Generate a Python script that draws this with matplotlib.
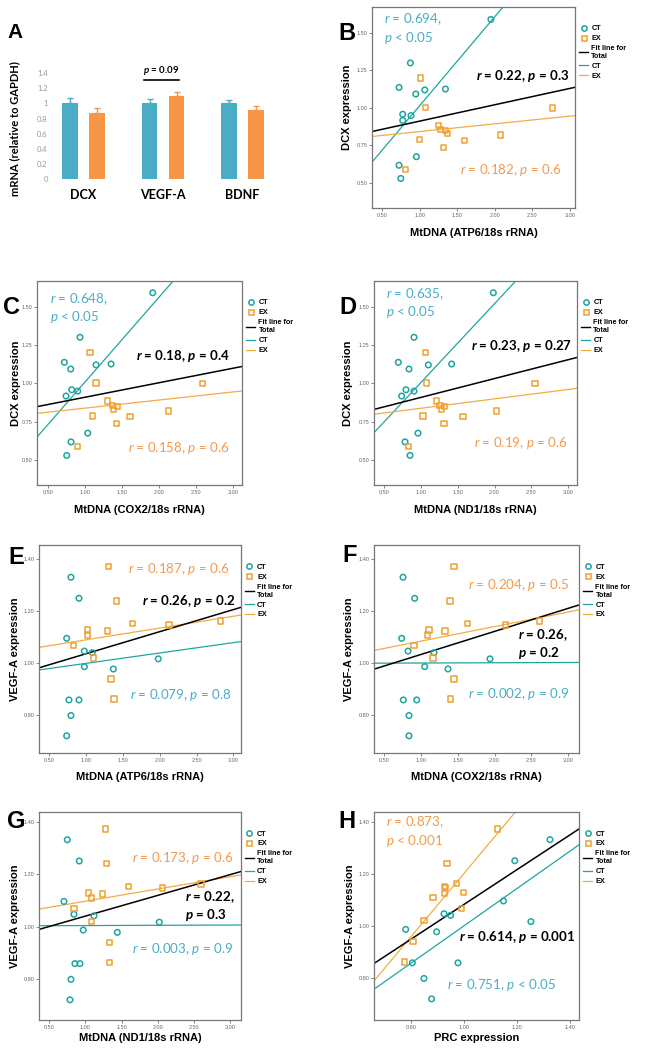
import numpy as np
import matplotlib
matplotlib.use('Agg')
import matplotlib.pyplot as plt
from matplotlib.lines import Line2D

plt.rcParams['font.family'] = ['Liberation Sans', 'DejaVu Sans']
plt.rcParams['mathtext.fontset'] = 'custom'
plt.rcParams['mathtext.rm'] = 'Lato'
plt.rcParams['mathtext.it'] = 'Lato:italic'
plt.rcParams['mathtext.bf'] = 'Lato:bold'
plt.rcParams['mathtext.bfit'] = 'Lato:bold:italic'

# colours
teal_bar = '#4bacc6'
orange_bar = '#f79646'
teal_pt = '#1fa59e'
orange_pt = '#f0a030'
teal_txt = '#4aadc7'
orange_txt = '#f39a4c'

# ---- panel A data
genes = ['DCX', 'VEGF-A', 'BDNF']
ct_mean = [1.0, 1.0, 1.0]
ex_mean = [0.87, 1.10, 0.907]
ct_err = [0.07, 0.053, 0.045]
ex_err = [0.07, 0.045, 0.053]

# ---- DCX expression (y of panels B, C, D)
dcx_ct = [1.59, 1.30, 1.137, 1.12, 1.093, 1.126, 0.958, 0.949, 0.917, 0.675, 0.618, 0.53]
dcx_ex = [1.20, 1.003, 1.0, 0.885, 0.855, 0.85, 0.83, 0.788, 0.785, 0.82, 0.738, 0.59]
atp6_ct_b = [1.95, 0.878, 0.727, 1.07, 0.95, 1.345, 0.776, 0.887, 0.776, 0.958, 0.727, 0.75]
atp6_ex_b = [1.01, 1.078, 2.77, 1.256, 1.28, 1.345, 1.376, 0.998, 1.6, 2.08, 1.315, 0.81]
cox2_ct_c = [1.914, 0.935, 0.724, 1.151, 0.81, 1.353, 0.823, 0.904, 0.747, 1.039, 0.814, 0.756]
cox2_ex_c = [1.07, 1.151, 2.587, 1.308, 1.375, 1.438, 1.384, 1.101, 1.609, 2.125, 1.43, 0.9]
nd1_ct_d = [1.983, 0.907, 0.694, 1.101, 0.839, 1.418, 0.798, 0.907, 0.74, 0.961, 0.785, 0.853]
nd1_ex_d = [1.065, 1.079, 2.548, 1.214, 1.26, 1.323, 1.282, 1.029, 1.571, 2.028, 1.314, 0.83]

# ---- VEGF-A expression (y of panels E, F, G, H)
vegf_ct = [1.331, 1.25, 1.096, 1.047, 1.041, 0.987, 0.978, 1.017, 0.859, 0.859, 0.799, 0.721]
vegf_ex = [1.372, 1.24, 1.152, 1.147, 1.162, 1.128, 1.109, 1.124, 1.068, 1.02, 0.94, 0.862]
atp6_ct_e = [0.794, 0.903, 0.736, 0.976, 1.084, 0.976, 1.37, 1.98, 0.767, 0.903, 0.794, 0.736]
atp6_ex_e = [1.30, 1.415, 1.628, 2.126, 2.828, 1.021, 1.021, 1.288, 0.826, 1.098, 1.338, 1.379]
cox2_ct_f = [0.758, 0.916, 0.74, 0.826, 1.178, 1.052, 1.368, 1.938, 0.762, 0.943, 0.839, 0.839]
cox2_ex_f = [1.449, 1.395, 1.63, 2.15, 2.611, 1.11, 1.088, 1.327, 0.907, 1.165, 1.449, 1.404]
nd1_ct_g = [0.749, 0.915, 0.703, 0.841, 1.118, 0.97, 1.441, 2.022, 0.855, 0.924, 0.8, 0.786]
nd1_ex_g = [1.28, 1.293, 1.593, 2.068, 2.599, 1.04, 1.086, 1.238, 0.841, 1.086, 1.33, 1.33]
prc_ct_h = [1.325, 1.192, 1.149, 0.924, 0.949, 0.779, 0.896, 1.253, 0.804, 0.977, 0.848, 0.877]
prc_ex_h = [1.126, 0.935, 0.925, 0.929, 0.971, 0.997, 0.883, 0.925, 0.991, 0.848, 0.806, 0.775]

# fit lines (intercept, slope) for CT, EX, Total
fit_b = [(0.421, 0.593), (0.791, 0.0515), (0.803, 0.109)]
fit_c = [(0.452, 0.555), (0.785, 0.053), (0.814, 0.0949)]
fit_d = [(0.491, 0.514), (0.776, 0.0613), (0.785, 0.123)]
fit_e = [(0.96, 0.0398), (1.045, 0.0453), (0.952, 0.0848)]
fit_f = [(1.0, 0.001), (1.029, 0.0561), (0.945, 0.0888)]
fit_g = [(1.003, 0.001), (1.05, 0.0467), (0.961, 0.079)]
fit_h = [(0.288, 0.713), (-0.007, 1.209), (0.419, 0.664)]

W, H = 648, 1050
fig = plt.figure(figsize=(W / 100, H / 100), dpi=100)


def rect(left, top, right, bottom):
    return [left / W, 1 - bottom / H, (right - left) / W, (bottom - top) / H]


def note(ax, s, color, x, y, ha='left', va='center', bold=False):
    ax.text(x, y, s, transform=ax.transAxes, color=color, ha=ha, va=va,
            fontsize=9.6, family='Lato', fontweight='bold' if bold else 'normal',
            linespacing=1.2, clip_on=False)


def stat(r, p, bold=False, sep=', ', pr='='):
    v = r'\mathbfit' if bold else r'\mathit'
    return '$%s{r}$ = %s%s$%s{p}$ %s %s' % (v, r, sep, v, pr, p)


def scatter_panel(box, ct_x, ct_y, ex_x, ex_y, fits, xlim, ylim, xticks, yticks,
                  xlabel, ylabel, ylab_x=-0.122, xlab_y=-0.122):
    ax = fig.add_axes(rect(*box))
    ax.scatter(ct_x, ct_y, s=16, marker='o', facecolors='none', edgecolors=teal_pt, linewidths=1.1, zorder=3)
    ax.scatter(ex_x, ex_y, s=15, marker='s', facecolors='none', edgecolors=orange_pt, linewidths=1.1, zorder=3)
    xs = np.array(xlim)
    for (b0, b1), c, lw in zip(fits, [teal_pt, '#f2ac45', 'black'], [0.9, 0.9, 1.1]):
        ax.plot(xs, b0 + b1 * xs, color=c, lw=lw, zorder=2)
    ax.set_xlim(xlim)
    ax.set_ylim(ylim)
    ax.set_xticks(xticks)
    ax.set_yticks(yticks)
    ax.set_xticklabels(['%.2f' % t for t in xticks])
    ax.set_yticklabels(['%.2f' % t for t in yticks])
    ax.tick_params(labelsize=4, length=2, width=0.5, pad=1.5, colors='#555555', labelcolor='#666666')
    for s in ax.spines.values():
        s.set_color('#777777')
        s.set_linewidth(0.9)
    ax.set_xlabel(xlabel, fontsize=8, fontweight='bold', va='center')
    ax.set_ylabel(ylabel, fontsize=8, fontweight='bold', va='center')
    ax.xaxis.set_label_coords(0.5, xlab_y)
    ax.yaxis.set_label_coords(ylab_x, 0.5)
    handles = [
        Line2D([], [], marker='o', ls='none', mfc='none', mec=teal_pt, ms=3.8, mew=1.1, label='CT'),
        Line2D([], [], marker='s', ls='none', mfc='none', mec=orange_pt, ms=3.6, mew=1.1, label='EX'),
        Line2D([], [], color='black', lw=1.0, label='Fit line for\nTotal'),
        Line2D([], [], color=teal_pt, lw=0.9, label='CT'),
        Line2D([], [], color='#f2ac45', lw=0.9, label='EX'),
    ]
    ax.legend(handles=handles, loc='upper left', bbox_to_anchor=(1.02, 0.91), frameon=False,
              prop={'size': 5.2, 'weight': 'bold'}, handlelength=1.3, handletextpad=0.4,
              labelspacing=0.4, borderaxespad=0, borderpad=0)
    return ax


# ---------------- panel A
axA = fig.add_axes(rect(53.3, 57.9, 278.3, 179.3))
x = np.arange(len(genes))
axA.bar(x - 0.17, ct_mean, 0.19, color=teal_bar, yerr=[[0] * 3, ct_err],
        error_kw=dict(ecolor=teal_bar, capsize=2, elinewidth=1, capthick=1))
axA.bar(x + 0.17, ex_mean, 0.19, color=orange_bar, yerr=[[0] * 3, ex_err],
        error_kw=dict(ecolor=orange_bar, capsize=2, elinewidth=1, capthick=1))
axA.set_xlim(-0.38, 2.45)
axA.set_ylim(0, 1.6)
axA.set_yticks(np.arange(0, 1.41, 0.2))
axA.set_yticklabels(['0', '0.2', '0.4', '0.6', '0.8', '1', '1.2', '1.4'], family='Lato')
axA.set_xticks(x)
axA.set_xticklabels(genes, fontsize=9, fontweight='bold', family='Lato')
axA.tick_params(axis='y', length=0, labelsize=5.5, labelcolor='#999999', pad=4)
axA.tick_params(axis='x', length=0, pad=7)
for s in axA.spines.values():
    s.set_visible(False)
axA.plot([0.761, 1.201], [1.31, 1.31], color='black', lw=1.2)
axA.text(0.98, 1.44, r'$\mathbfit{p}$ = 0.09', ha='center', va='center', fontsize=7,
         fontweight='bold', family='Lato', clip_on=False)
fig.text(15 / W, 1 - 129 / H, 'mRNA (relative to GAPDH)', rotation=90, ha='center', va='center',
         fontsize=8, fontweight='bold', family='Lato')

# ---------------- panels B-D
dcx_ticks = [0.5, 0.75, 1.0, 1.25, 1.5]
mt_ticks = [0.5, 1.0, 1.5, 2.0, 2.5, 3.0]

axB = scatter_panel((372, 7, 575, 208), atp6_ct_b, dcx_ct, atp6_ex_b, dcx_ex, fit_b,
                    (0.367, 3.07), (0.333, 1.673), mt_ticks, dcx_ticks,
                    'MtDNA (ATP6/18s rRNA)', 'DCX expression', ylab_x=-0.124, xlab_y=-0.126)
note(axB, stat('0.694,', '0.05', sep='\n', pr='<'), teal_txt, 0.059, 0.892)
note(axB, stat('0.22', '0.3', bold=True), 'black', 0.97, 0.657, ha='right', bold=True)
note(axB, stat('0.182', '0.6'), orange_txt, 0.933, 0.189, ha='right')

axC = scatter_panel((37, 281, 242, 485), cox2_ct_c, dcx_ct, cox2_ex_c, dcx_ex, fit_c,
                    (0.356, 3.116), (0.337, 1.667), mt_ticks, dcx_ticks,
                    'MtDNA (COX2/18s rRNA)', 'DCX expression', ylab_x=-0.102, xlab_y=-0.123)
note(axC, stat('0.648,', '0.05', sep='\n', pr='<'), teal_txt, 0.063, 0.868)
note(axC, stat('0.18', '0.4', bold=True), 'black', 0.941, 0.632, ha='right', bold=True)
note(axC, stat('0.158', '0.6'), orange_txt, 0.941, 0.18, ha='right')

axD = scatter_panel((374, 281, 577, 485), nd1_ct_d, dcx_ct, nd1_ex_d, dcx_ex, fit_d,
                    (0.364, 3.119), (0.337, 1.667), mt_ticks, dcx_ticks,
                    'MtDNA (ND1/18s rRNA)', 'DCX expression', ylab_x=-0.127, xlab_y=-0.123)
note(axD, stat('0.635,', '0.05', sep='\n', pr='<'), teal_txt, 0.06, 0.89)
note(axD, stat('0.23', '0.27', bold=True), 'black', 0.977, 0.681, ha='right', bold=True)
note(axD, stat('0.19', '0.6'), orange_txt, 0.957, 0.204, ha='right')

# ---------------- panels E-H
vegf_ticks = [0.8, 1.0, 1.2, 1.4]

axE = scatter_panel((39.3, 545, 240.7, 752.7), atp6_ct_e, vegf_ct, atp6_ex_e, vegf_ex, fit_e,
                    (0.364, 3.10), (0.656, 1.455), mt_ticks, vegf_ticks,
                    'MtDNA (ATP6/18s rRNA)', 'VEGF-A expression', ylab_x=-0.121, xlab_y=-0.118)
note(axE, stat('0.187', '0.6'), orange_txt, 0.943, 0.883, ha='right')
note(axE, stat('0.26', '0.2', bold=True), 'black', 0.972, 0.730, ha='right', bold=True)
note(axE, stat('0.079', '0.8'), teal_txt, 0.955, 0.278, ha='right')

axF = scatter_panel((374, 545, 579, 752.7), cox2_ct_f, vegf_ct, cox2_ex_f, vegf_ex, fit_f,
                    (0.364, 3.146), (0.656, 1.455), mt_ticks, vegf_ticks,
                    'MtDNA (COX2/18s rRNA)', 'VEGF-A expression', ylab_x=-0.122, xlab_y=-0.118)
note(axF, stat('0.204', '0.5'), orange_txt, 0.951, 0.807, ha='right')
note(axF, stat('0.26,', '0.2', bold=True, sep='\n'), 'black', 0.704, 0.522, bold=True)
note(axF, stat('0.002', '0.9'), teal_txt, 0.951, 0.283, ha='right')

axG = scatter_panel((39.3, 811.7, 240.7, 1020), nd1_ct_g, vegf_ct, nd1_ex_g, vegf_ex, fit_g,
                    (0.362, 3.148), (0.644, 1.438), mt_ticks, vegf_ticks,
                    'MtDNA (ND1/18s rRNA)', 'VEGF-A expression', ylab_x=-0.121, xlab_y=-0.088)
note(axG, stat('0.173', '0.6'), orange_txt, 0.963, 0.776, ha='right')
note(axG, stat('0.22,', '0.3', bold=True, sep='\n'), 'black', 0.723, 0.546, bold=True)
note(axG, stat('0.003', '0.9'), teal_txt, 0.963, 0.339, ha='right')

axH = scatter_panel((374, 811.7, 579, 1020), prc_ct_h, vegf_ct, prc_ex_h, vegf_ex, fit_h,
                    (0.659, 1.435), (0.640, 1.438), vegf_ticks, vegf_ticks,
                    'PRC expression', 'VEGF-A expression', ylab_x=-0.118, xlab_y=-0.088)
note(axH, stat('0.873,', '0.001', sep='\n', pr='<'), orange_txt, 0.057, 0.904)
note(axH, stat('0.614', '0.001', bold=True), 'black', 0.984, 0.40, ha='right', bold=True)
note(axH, stat('0.751', '0.05', pr='<'), teal_txt, 0.886, 0.168, ha='right')

# panel letters
letters = ['A', 'B', 'C', 'D', 'E', 'F', 'G', 'H']
letter_x = [15, 347, 12, 348, 16, 350, 16, 347]
letter_y = [33, 33, 307, 308, 557, 556, 822, 821]
for lt, lx, ly in zip(letters, letter_x, letter_y):
    fig.text(lx / W, 1 - ly / H, lt, ha='center', va='center', fontsize=15 if lt == 'A' else 17,
             fontweight='bold')

fig.savefig('out.png', dpi=100)
